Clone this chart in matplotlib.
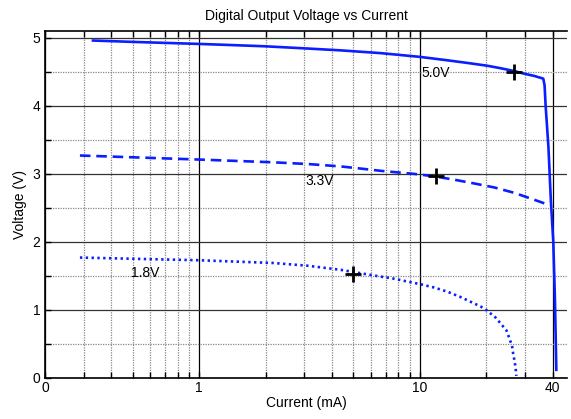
import matplotlib.pyplot as plt
import numpy as np

plt.rcParams["font.family"] = ["Liberation Sans", "DejaVu Sans"]
plt.rcParams["font.size"] = 10

# Output characteristic curves
i_50 = [0.33, 0.5, 1.0, 1.36, 2.0, 3.0, 4.4, 6.64, 10.0, 13.3, 16.5, 20.2, 23.5, 26.9, 30.0, 33.0,
        36.3, 36.8, 37.2, 38.3, 39.3, 40.3, 41.0, 41.6]
v_50 = [4.96, 4.94, 4.91, 4.895, 4.875, 4.845, 4.815, 4.775, 4.72, 4.67, 4.63, 4.59, 4.55, 4.51,
        4.47, 4.44, 4.40, 4.30, 4.00, 3.40, 2.60, 2.00, 1.15, 0.12]

i_33 = [0.288, 0.54, 1.01, 2.17, 3.1, 4.37, 5.5, 6.64, 9.4, 11.6, 14.3, 17.6, 21.8, 26.9, 33.0, 38.0]
v_33 = [3.27, 3.24, 3.21, 3.17, 3.145, 3.11, 3.075, 3.045, 3.0, 2.965, 2.915, 2.86, 2.80, 2.72,
        2.62, 2.55]

i_18 = [0.288, 0.54, 1.01, 2.17, 3.1, 4.37, 6.64, 7.62, 8.72, 10.0, 11.6, 13.3, 15.3, 17.0, 18.9,
        20.2, 22.2, 23.4, 24.7, 25.5, 26.2, 26.5, 26.9, 27.2, 27.4]
v_18 = [1.77, 1.75, 1.73, 1.69, 1.65, 1.59, 1.49, 1.46, 1.42, 1.38, 1.33, 1.27, 1.19, 1.12, 1.05,
        0.99, 0.88, 0.79, 0.70, 0.58, 0.47, 0.36, 0.25, 0.14, 0.03]

# marked operating points and curve labels
mark_i = [26.8, 11.8, 5.0]
mark_v = [4.50, 2.97, 1.53]
label_text = ["5.0V", "3.3V", "1.8V"]
label_i = [10.2, 3.03, 0.49]
label_v = [4.49, 2.90, 1.55]

xtick_vals = [0.2, 1, 10, 40]
xtick_labels = ["0", "1", "10", "40"]
xminor = [0.3, 0.4, 0.5, 0.6, 0.7, 0.8, 0.9, 2, 3, 4, 5, 6, 7, 8, 9, 20, 30]

fig = plt.figure(figsize=(5.71, 4.19), dpi=100)
ax = fig.add_axes([0.0788, 0.0979, 0.9142, 0.8281])

blue = "#0a1eff"
ax.plot(i_50, v_50, color=blue, lw=1.9, solid_joinstyle="round")
ax.plot(i_33, v_33, color=blue, lw=1.9, linestyle=(0, (4, 2.2)))
ax.plot(i_18, v_18, color=blue, lw=1.9, linestyle=(0, (0.9, 1.3)))

ax.plot(mark_i, mark_v, "k+", markersize=12, markeredgewidth=2, linestyle="none")
for t, xi, yi in zip(label_text, label_i, label_v):
    ax.text(xi, yi, t, ha="left", va="center", fontsize=10)

ax.set_xscale("log")
ax.set_xlim(0.2, 46.5)
ax.set_ylim(0, 5.1)
ax.set_xticks(xtick_vals)
ax.set_xticklabels(xtick_labels)
ax.set_xticks(xminor, minor=True)
ax.set_xticklabels([], minor=True)
ax.set_yticks([0, 1, 2, 3, 4, 5])
ax.set_yticks([0.5, 1.5, 2.5, 3.5, 4.5], minor=True)

ax.grid(True, which="major", axis="x", color="black", lw=0.9, linestyle="-")
ax.grid(True, which="minor", axis="x", color="#888888", lw=0.9, linestyle=(0, (1, 1)))
ax.grid(True, which="major", axis="y", color="#333333", lw=0.9, linestyle="-")
ax.grid(True, which="minor", axis="y", color="#888888", lw=0.9, linestyle=(0, (1, 1)))
ax.set_axisbelow(True)

ax.tick_params(which="both", direction="in", top=True, right=False, length=4, width=1)
ax.tick_params(axis="x", which="major", pad=2)
ax.spines["right"].set_visible(False)
for s in ["left", "bottom", "top"]:
    ax.spines[s].set_linewidth(1.2)

ax.set_title("Digital Output Voltage vs Current", fontsize=10, pad=8)
ax.set_xlabel("Current (mA)", labelpad=1)
ax.set_ylabel("Voltage (V)", labelpad=4)

fig.savefig("out.png", dpi=100)
